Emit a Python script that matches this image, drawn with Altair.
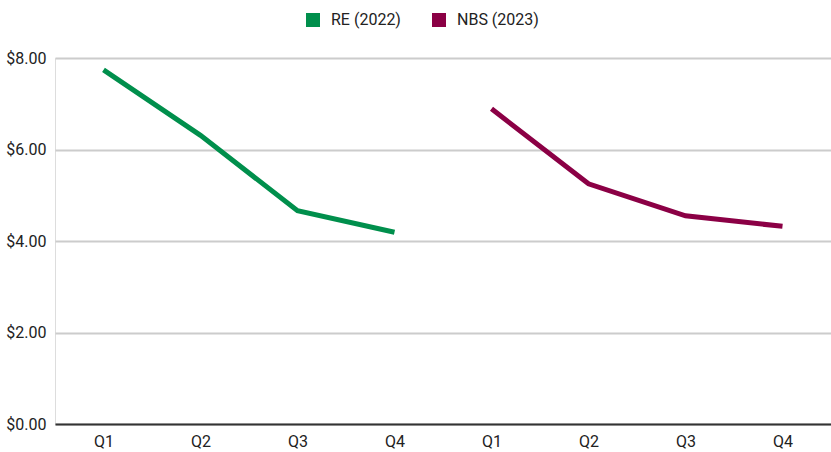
import altair as alt
import pandas as pd

# Quarterly average price per series
quarters = ["Q1", "Q2", "Q3", "Q4"]
re_2022 = [7.74, 6.31, 4.66, 4.19]
nbs_2023 = [6.89, 5.25, 4.55, 4.32]
series_names = ["RE (2022)", "NBS (2023)"]
series_colors = ["#008f4c", "#8b0045"]

rows = []
for q, v in zip(quarters, re_2022):
    rows.append({"key": "2022-" + q, "series": series_names[0], "value": v})
for q, v in zip(quarters, nbs_2023):
    rows.append({"key": "2023-" + q, "series": series_names[1], "value": v})
df = pd.DataFrame(rows)
order = list(df["key"])

FONT = "Roboto"
FS = 16

chart = (
    alt.Chart(df)
    .mark_line(strokeWidth=5, strokeCap="butt", strokeJoin="miter")
    .encode(
        x=alt.X(
            "key:O",
            sort=order,
            scale=alt.Scale(type="point", padding=0.5),
            axis=alt.Axis(
                title=None,
                labelExpr="slice(datum.value, 5)",
                labelAngle=0,
                ticks=False,
                domain=True,
                domainColor="#333333",
                domainWidth=2,
                labelPadding=9,
                labelFontSize=FS,
                labelColor="#222222",
                labelFont=FONT,
                grid=False,
            ),
        ),
        y=alt.Y(
            "value:Q",
            scale=alt.Scale(domain=[0, 8], nice=False, zero=True),
            axis=alt.Axis(
                title=None,
                values=[0, 2, 4, 6, 8],
                format="$.2f",
                ticks=False,
                domain=False,
                gridColor="#cccccc",
                gridWidth=2,
                labelPadding=9,
                labelFontSize=FS,
                labelColor="#222222",
                labelFont=FONT,
            ),
        ),
        color=alt.Color(
            "series:N",
            sort=series_names,
            scale=alt.Scale(domain=series_names, range=series_colors),
            legend=alt.Legend(
                title=None,
                orient="none",
                direction="horizontal",
                legendX=250,
                legendY=-46,
                symbolType="square",
                symbolSize=16,
                symbolStrokeWidth=10,
                labelFontSize=FS,
                labelFont=FONT,
                labelColor="#222222",
                labelOffset=10,
                columnPadding=16,
                padding=0,
            ),
        ),
    )
    .properties(
        width=776,
        height=366,
        autosize=alt.AutoSizeParams(type="none"),
        padding={"left": 55, "top": 58, "right": 0, "bottom": 28},
    )
    .configure_view(stroke=None)
    .configure(background="#ffffff")
)

chart.save("out.html", embed_options={"renderer": "svg", "actions": False})
